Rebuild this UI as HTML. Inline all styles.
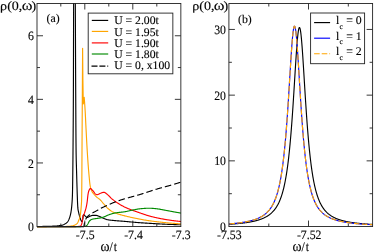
<!DOCTYPE html>
<html><head><meta charset="utf-8"><title>chart</title>
<style>
html,body{margin:0;padding:0;background:#fff;}
body{width:374px;height:252px;overflow:hidden;}
svg{display:block;}
.t{font-family:"Liberation Serif",serif;font-size:11.8px;fill:#000;stroke:#000;stroke-width:0.12px;text-rendering:geometricPrecision;}
</style></head><body>
<svg width="374" height="252" viewBox="0 0 374 252">
<rect width="100%" height="100%" fill="#fff"/>
<g opacity="0.999">
<defs><clipPath id="ca"><rect x="37.0" y="3.5" width="143.85" height="223.65"/></clipPath><clipPath id="cb"><rect x="228.9" y="3.5" width="143.70000000000002" height="223.65"/></clipPath></defs>
<g clip-path="url(#ca)" fill="none" stroke-linejoin="round">
<polyline points="37.00,226.50 37.52,226.50 38.04,226.50 38.56,226.49 39.08,226.49 39.60,226.48 40.12,226.48 40.64,226.47 41.16,226.46 41.67,226.46 42.19,226.45 42.71,226.44 43.23,226.43 43.75,226.42 44.27,226.41 44.79,226.40 45.31,226.39 45.83,226.38 46.35,226.37 46.87,226.36 47.39,226.35 47.91,226.34 48.43,226.32 48.95,226.31 49.47,226.29 49.99,226.28 50.51,226.26 51.02,226.24 51.54,226.22 52.06,226.20 52.58,226.18 53.10,226.16 53.62,226.14 54.14,226.11 54.65,226.08 55.17,226.06 55.69,226.03 56.21,225.99 56.73,225.95 57.25,225.91 57.78,225.86 58.30,225.81 58.82,225.75 59.34,225.68 59.85,225.61 60.36,225.54 60.87,225.45 61.37,225.36 61.87,225.26 62.37,225.13 62.87,224.97 63.36,224.77 63.85,224.55 64.32,224.32 64.77,224.07 65.20,223.82 65.64,223.53 66.08,223.22 66.50,222.88 66.90,222.52 67.27,222.15 67.60,221.76 67.89,221.37 68.15,220.96 68.40,220.52 68.64,220.06 68.87,219.58 69.08,219.09 69.28,218.60 69.46,218.09 69.64,217.59 69.80,217.08 69.95,216.58 70.09,216.09 70.22,215.59 70.35,215.09 70.47,214.59 70.58,214.08 70.69,213.57 70.79,213.06 70.89,212.54 70.99,212.03 71.07,211.51 71.16,211.00 71.23,210.48 71.30,209.97 71.37,209.46 71.44,208.94 71.50,208.43 71.56,207.91 71.61,207.40 71.67,206.88 71.72,206.36 71.77,205.84 71.81,205.33 71.86,204.81 71.90,204.29 71.94,203.77 71.98,203.25 72.02,202.74 72.06,202.22 72.09,201.70 72.13,201.18 72.16,200.66 72.19,200.14 72.23,199.63 72.26,199.11 72.28,198.59 72.31,198.07 72.34,197.55 72.36,197.03 72.38,196.51 72.40,195.99 72.42,195.47 72.43,194.96 72.45,194.44 72.46,193.92 72.48,193.40 72.49,192.88 72.50,192.36 72.51,191.84 72.52,191.32 72.53,190.80 72.54,190.28 72.55,189.76 72.56,189.24 72.57,188.72 72.58,188.21 72.59,187.69 72.60,187.17 72.61,186.65 72.62,186.13 72.62,185.61 72.63,185.09 72.64,184.57 72.65,184.05 72.65,183.53 72.66,183.01 72.67,182.49 72.68,181.97 72.68,181.45 72.69,180.93 72.70,180.42 72.70,179.90 72.71,179.38 72.72,178.86 72.72,178.34 72.73,177.82 72.73,177.30 72.74,176.78 72.75,176.26 72.75,175.74 72.76,175.22 72.77,174.70 72.77,174.18 72.78,173.66 72.78,173.14 72.79,172.63 72.80,172.11 72.80,171.59 72.81,171.07 72.81,170.55 72.82,170.03 72.83,169.51 72.83,168.99 72.84,168.47 72.84,167.95 72.85,167.43 72.86,166.91 72.86,166.39 72.87,165.87 72.87,165.35 72.88,164.84 72.88,164.32 72.89,163.80 72.89,163.28 72.90,162.76 72.90,162.24 72.91,161.72 72.92,161.20 72.92,160.68 72.93,160.16 72.93,159.64 72.94,159.12 72.94,158.60 72.95,158.08 72.95,157.56 72.96,157.04 72.96,156.53 72.96,156.01 72.97,155.49 72.97,154.97 72.98,154.45 72.98,153.93 72.99,153.41 72.99,152.89 73.00,152.37 73.00,151.85 73.01,151.33 73.01,150.81 73.01,150.29 73.02,149.77 73.02,149.25 73.03,148.73 73.03,148.22 73.04,147.70 73.04,147.18 73.04,146.66 73.05,146.14 73.05,145.62 73.06,145.10 73.06,144.58 73.07,144.06 73.07,143.54 73.07,143.02 73.08,142.50 73.08,141.98 73.09,141.46 73.09,140.94 73.09,140.43 73.10,139.91 73.10,139.39 73.11,138.87 73.11,138.35 73.11,137.83 73.12,137.31 73.12,136.79 73.13,136.27 73.13,135.75 73.13,135.23 73.14,134.71 73.14,134.19 73.15,133.67 73.15,133.15 73.15,132.63 73.16,132.12 73.16,131.60 73.16,131.08 73.17,130.56 73.17,130.04 73.18,129.52 73.18,129.00 73.18,128.48 73.19,127.96 73.19,127.44 73.19,126.92 73.20,126.40 73.20,125.88 73.21,125.36 73.21,124.84 73.21,124.32 73.22,123.81 73.22,123.29 73.22,122.77 73.23,122.25 73.23,121.73 73.23,121.21 73.24,120.69 73.24,120.17 73.24,119.65 73.25,119.13 73.25,118.61 73.25,118.09 73.26,117.57 73.26,117.05 73.26,116.53 73.27,116.01 73.27,115.50 73.27,114.98 73.27,114.46 73.28,113.94 73.28,113.42 73.28,112.90 73.29,112.38 73.29,111.86 73.29,111.34 73.30,110.82 73.30,110.30 73.30,109.78 73.30,109.26 73.31,108.74 73.31,108.22 73.31,107.70 73.32,107.19 73.32,106.67 73.32,106.15 73.32,105.63 73.33,105.11 73.33,104.59 73.33,104.07 73.33,103.55 73.34,103.03 73.34,102.51 73.34,101.99 73.34,101.47 73.35,100.95 73.35,100.43 73.35,99.91 73.35,99.39 73.35,98.88 73.36,98.36 73.36,97.84 73.36,97.32 73.36,96.80 73.37,96.28 73.37,95.76 73.37,95.24 73.37,94.72 73.37,94.20 73.38,93.68 73.38,93.16 73.38,92.64 73.38,92.12 73.38,91.60 73.39,91.08 73.39,90.57 73.39,90.05 73.39,89.53 73.39,89.01 73.40,88.49 73.40,87.97 73.40,87.45 73.40,86.93 73.40,86.41 73.40,85.89 73.41,85.37 73.41,84.85 73.41,84.33 73.41,83.81 73.41,83.29 73.42,82.77 73.42,82.26 73.42,81.74 73.42,81.22 73.42,80.70 73.42,80.18 73.43,79.66 73.43,79.14 73.43,78.62 73.43,78.10 73.43,77.58 73.43,77.06 73.43,76.54 73.44,76.02 73.44,75.50 73.44,74.98 73.44,74.46 73.44,73.95 73.44,73.43 73.45,72.91 73.45,72.39 73.45,71.87 73.45,71.35 73.45,70.83 73.45,70.31 73.45,69.79 73.46,69.27 73.46,68.75 73.46,68.23 73.46,67.71 73.46,67.19 73.46,66.67 73.46,66.15 73.46,65.64 73.47,65.12 73.47,64.60 73.47,64.08 73.47,63.56 73.47,63.04 73.47,62.52 73.47,62.00 73.48,61.48 73.48,60.96 73.48,60.44 73.48,59.92 73.48,59.40 73.48,58.88 73.48,58.36 73.48,57.84 73.49,57.33 73.49,56.81 73.49,56.29 73.49,55.77 73.49,55.25 73.49,54.73 73.49,54.21 73.49,53.69 73.50,53.17 73.50,52.65 73.50,52.13 73.50,51.61 73.50,51.09 73.50,50.57 73.50,50.05 73.50,49.53 73.51,49.02 73.51,48.50 73.51,47.98 73.51,47.46 73.51,46.94 73.51,46.42 73.51,45.90 73.52,45.38 73.52,44.86 73.52,44.34 73.52,43.82 73.52,43.30 73.52,42.78 73.52,42.26 73.52,41.74 73.53,41.22 73.53,40.71 73.53,40.19 73.53,39.67 73.53,39.15 73.53,38.63 73.53,38.11 73.54,37.59 73.54,37.07 73.54,36.55 73.54,36.03 73.54,35.51 73.54,34.99 73.54,34.47 73.54,33.95 73.55,33.43 73.55,32.91 73.55,32.40 73.55,31.88 73.55,31.36 73.55,30.84 73.55,30.32 73.56,29.80 73.56,29.28 73.56,28.76 73.56,28.24 73.56,27.72 73.56,27.20 73.57,26.68 73.57,26.16 73.57,25.64 73.57,25.12 73.57,24.60 73.57,24.08 73.58,23.57 73.58,23.05 73.58,22.53 73.58,22.01 73.58,21.49 73.58,20.97 73.59,20.45 73.59,19.93 73.59,19.41 73.59,18.89 73.59,18.37 73.59,17.85 73.60,17.33 73.60,16.81 73.60,16.29 73.60,15.77 73.60,15.26 73.60,14.74 73.61,14.22 73.61,13.70 73.61,13.18 73.61,12.66 73.61,12.14 73.62,11.62 73.62,11.10 73.62,10.58 73.62,10.06 73.62,9.54 73.63,9.02 73.63,8.50 73.63,7.98 73.63,7.46 73.64,6.95 73.64,6.43 73.64,5.91 73.64,5.39 73.64,4.87 73.65,4.35 73.65,3.83 73.65,3.31 73.65,2.79 73.66,2.27 73.66,1.75 73.66,1.23 73.66,0.71 73.67,0.19 73.67,-0.33 73.67,-0.85 73.68,-1.36 73.68,-1.88 73.68,-2.40 73.69,-2.92 73.69,-3.44 73.69,-3.96 73.70,-4.48 73.70,-5.00" stroke="#000" stroke-width="1.15"/>
<polyline points="75.25,-5.00 75.25,-4.52 75.26,-4.04 75.26,-3.56 75.26,-3.09 75.26,-2.61 75.27,-2.13 75.27,-1.65 75.27,-1.17 75.28,-0.69 75.28,-0.21 75.28,0.26 75.28,0.74 75.29,1.22 75.29,1.70 75.29,2.18 75.30,2.66 75.30,3.14 75.30,3.61 75.30,4.09 75.31,4.57 75.31,5.05 75.31,5.53 75.31,6.01 75.32,6.49 75.32,6.96 75.32,7.44 75.32,7.92 75.33,8.40 75.33,8.88 75.33,9.36 75.33,9.84 75.34,10.31 75.34,10.79 75.34,11.27 75.34,11.75 75.35,12.23 75.35,12.71 75.35,13.18 75.35,13.66 75.35,14.14 75.36,14.62 75.36,15.10 75.36,15.58 75.36,16.06 75.37,16.53 75.37,17.01 75.37,17.49 75.37,17.97 75.38,18.45 75.38,18.93 75.38,19.41 75.38,19.88 75.38,20.36 75.39,20.84 75.39,21.32 75.39,21.80 75.39,22.28 75.40,22.76 75.40,23.23 75.40,23.71 75.40,24.19 75.40,24.67 75.41,25.15 75.41,25.63 75.41,26.11 75.41,26.58 75.42,27.06 75.42,27.54 75.42,28.02 75.42,28.50 75.42,28.98 75.43,29.46 75.43,29.93 75.43,30.41 75.43,30.89 75.43,31.37 75.44,31.85 75.44,32.33 75.44,32.81 75.44,33.28 75.45,33.76 75.45,34.24 75.45,34.72 75.45,35.20 75.45,35.68 75.46,36.16 75.46,36.63 75.46,37.11 75.46,37.59 75.46,38.07 75.47,38.55 75.47,39.03 75.47,39.51 75.47,39.98 75.47,40.46 75.48,40.94 75.48,41.42 75.48,41.90 75.48,42.38 75.48,42.86 75.49,43.33 75.49,43.81 75.49,44.29 75.49,44.77 75.49,45.25 75.50,45.73 75.50,46.21 75.50,46.68 75.50,47.16 75.50,47.64 75.51,48.12 75.51,48.60 75.51,49.08 75.51,49.55 75.51,50.03 75.52,50.51 75.52,50.99 75.52,51.47 75.52,51.95 75.53,52.43 75.53,52.90 75.53,53.38 75.53,53.86 75.53,54.34 75.54,54.82 75.54,55.30 75.54,55.78 75.54,56.25 75.54,56.73 75.55,57.21 75.55,57.69 75.55,58.17 75.55,58.65 75.55,59.13 75.56,59.60 75.56,60.08 75.56,60.56 75.56,61.04 75.56,61.52 75.57,62.00 75.57,62.48 75.57,62.95 75.57,63.43 75.57,63.91 75.58,64.39 75.58,64.87 75.58,65.35 75.58,65.83 75.58,66.30 75.59,66.78 75.59,67.26 75.59,67.74 75.59,68.22 75.60,68.70 75.60,69.18 75.60,69.65 75.60,70.13 75.60,70.61 75.61,71.09 75.61,71.57 75.61,72.05 75.61,72.53 75.61,73.00 75.62,73.48 75.62,73.96 75.62,74.44 75.62,74.92 75.63,75.40 75.63,75.88 75.63,76.35 75.63,76.83 75.63,77.31 75.64,77.79 75.64,78.27 75.64,78.75 75.64,79.23 75.65,79.70 75.65,80.18 75.65,80.66 75.65,81.14 75.65,81.62 75.66,82.10 75.66,82.58 75.66,83.05 75.66,83.53 75.67,84.01 75.67,84.49 75.67,84.97 75.67,85.45 75.68,85.93 75.68,86.40 75.68,86.88 75.68,87.36 75.69,87.84 75.69,88.32 75.69,88.80 75.69,89.27 75.70,89.75 75.70,90.23 75.70,90.71 75.70,91.19 75.71,91.67 75.71,92.15 75.71,92.62 75.71,93.10 75.72,93.58 75.72,94.06 75.72,94.54 75.72,95.02 75.73,95.50 75.73,95.97 75.73,96.45 75.73,96.93 75.74,97.41 75.74,97.89 75.74,98.37 75.74,98.85 75.75,99.32 75.75,99.80 75.75,100.28 75.75,100.76 75.76,101.24 75.76,101.72 75.76,102.20 75.76,102.67 75.77,103.15 75.77,103.63 75.77,104.11 75.77,104.59 75.78,105.07 75.78,105.55 75.78,106.02 75.78,106.50 75.79,106.98 75.79,107.46 75.79,107.94 75.79,108.42 75.80,108.90 75.80,109.37 75.80,109.85 75.80,110.33 75.81,110.81 75.81,111.29 75.81,111.77 75.81,112.25 75.82,112.72 75.82,113.20 75.82,113.68 75.82,114.16 75.83,114.64 75.83,115.12 75.83,115.60 75.83,116.07 75.84,116.55 75.84,117.03 75.84,117.51 75.84,117.99 75.85,118.47 75.85,118.95 75.85,119.42 75.85,119.90 75.86,120.38 75.86,120.86 75.86,121.34 75.86,121.82 75.87,122.30 75.87,122.77 75.87,123.25 75.87,123.73 75.88,124.21 75.88,124.69 75.88,125.17 75.89,125.65 75.89,126.12 75.89,126.60 75.89,127.08 75.90,127.56 75.90,128.04 75.90,128.52 75.91,129.00 75.91,129.47 75.91,129.95 75.91,130.43 75.92,130.91 75.92,131.39 75.92,131.87 75.93,132.35 75.93,132.82 75.93,133.30 75.94,133.78 75.94,134.26 75.94,134.74 75.95,135.22 75.95,135.70 75.95,136.17 75.96,136.65 75.96,137.13 75.96,137.61 75.97,138.09 75.97,138.57 75.98,139.05 75.98,139.52 75.98,140.00 75.99,140.48 75.99,140.96 76.00,141.44 76.00,141.92 76.00,142.39 76.01,142.87 76.01,143.35 76.02,143.83 76.02,144.31 76.03,144.79 76.03,145.27 76.03,145.74 76.04,146.22 76.04,146.70 76.05,147.18 76.05,147.66 76.06,148.14 76.06,148.62 76.07,149.09 76.07,149.57 76.08,150.05 76.08,150.53 76.09,151.01 76.09,151.49 76.10,151.96 76.11,152.44 76.11,152.92 76.12,153.40 76.13,153.88 76.13,154.36 76.14,154.84 76.15,155.31 76.16,155.79 76.17,156.27 76.18,156.75 76.19,157.23 76.20,157.71 76.21,158.18 76.22,158.66 76.23,159.14 76.24,159.62 76.25,160.10 76.26,160.58 76.27,161.05 76.29,161.53 76.30,162.01 76.31,162.49 76.33,162.97 76.34,163.45 76.35,163.93 76.37,164.40 76.38,164.88 76.39,165.36 76.41,165.84 76.42,166.32 76.43,166.80 76.45,167.27 76.46,167.75 76.48,168.23 76.49,168.71 76.50,169.19 76.52,169.67 76.53,170.14 76.55,170.62 76.56,171.10 76.58,171.58 76.59,172.06 76.60,172.54 76.62,173.01 76.63,173.49 76.64,173.97 76.66,174.45 76.67,174.93 76.68,175.41 76.70,175.89 76.71,176.36 76.72,176.84 76.74,177.32 76.75,177.80 76.76,178.28 76.77,178.76 76.79,179.23 76.80,179.71 76.81,180.19 76.83,180.67 76.84,181.15 76.85,181.63 76.87,182.10 76.88,182.58 76.89,183.06 76.91,183.54 76.92,184.02 76.94,184.50 76.95,184.97 76.96,185.45 76.98,185.93 76.99,186.41 77.01,186.89 77.02,187.37 77.03,187.84 77.05,188.32 77.06,188.80 77.08,189.28 77.09,189.76 77.11,190.24 77.12,190.71 77.14,191.19 77.15,191.67 77.17,192.15 77.18,192.63 77.20,193.11 77.21,193.58 77.23,194.06 77.25,194.54 77.26,195.02 77.28,195.50 77.30,195.98 77.32,196.45 77.33,196.93 77.35,197.41 77.37,197.89 77.38,198.37 77.40,198.85 77.42,199.33 77.43,199.81 77.45,200.29 77.47,200.77 77.48,201.25 77.50,201.73 77.52,202.21 77.54,202.68 77.56,203.16 77.58,203.64 77.61,204.12 77.63,204.60 77.66,205.07 77.68,205.55 77.71,206.03 77.74,206.50 77.77,206.98 77.81,207.45 77.84,207.93 77.89,208.40 77.94,208.87 78.01,209.35 78.08,209.82 78.17,210.29 78.26,210.76 78.36,211.23 78.46,211.70 78.57,212.17 78.68,212.64 78.79,213.11 78.90,213.57 79.01,214.04 79.12,214.50 79.24,214.97 79.35,215.43 79.47,215.90 79.60,216.36 79.73,216.82 79.86,217.28 80.01,217.74 80.16,218.19 80.32,218.64 80.48,219.09 80.67,219.53 80.87,219.97 81.09,220.40 81.33,220.83 81.64,221.34 81.93,221.67 82.12,221.63 82.28,221.33 82.43,220.85 82.55,220.26 82.67,219.65 82.78,219.10 82.88,218.61 82.96,218.04 83.02,217.42 83.08,216.80 83.14,216.19 83.20,215.65 83.29,215.20 83.40,214.88 83.54,214.71 83.85,214.75 84.35,214.92 84.66,215.25 84.94,215.67 85.25,216.05 85.60,216.42 85.98,216.80 86.37,217.14 86.77,217.39 87.17,217.50 87.58,217.44 88.01,217.28 88.44,217.05 88.88,216.79 89.32,216.52 89.77,216.29 90.21,216.12 90.67,215.96 91.12,215.79 91.59,215.63 92.05,215.49 92.52,215.38 92.99,215.31 93.46,215.30 93.93,215.31 94.41,215.32 94.90,215.34 95.38,215.36 95.85,215.39 96.32,215.43 96.78,215.53 97.25,215.66 97.70,215.81 98.16,215.98 98.61,216.16 99.06,216.32 99.51,216.49 99.95,216.67 100.39,216.86 100.82,217.06 101.26,217.27 101.69,217.47 102.13,217.68 102.56,217.88 103.00,218.07 103.44,218.26 103.89,218.43 104.33,218.61 104.78,218.78 105.23,218.96 105.68,219.13 106.14,219.29 106.59,219.44 107.05,219.58 107.51,219.70 107.97,219.80 108.44,219.88 108.91,219.95 109.38,220.02 109.85,220.08 110.32,220.14 110.80,220.20 111.28,220.25 111.75,220.30 112.23,220.34 112.71,220.39 113.19,220.43 113.67,220.48 114.15,220.52 114.63,220.56 115.10,220.61 115.58,220.65 116.06,220.70 116.53,220.74 117.01,220.78 117.49,220.82 117.96,220.86 118.44,220.89 118.92,220.93 119.40,220.97 119.87,221.00 120.35,221.04 120.83,221.07 121.30,221.11 121.78,221.15 122.26,221.18 122.74,221.22 123.21,221.25 123.69,221.29 124.17,221.33 124.64,221.37 125.12,221.41 125.60,221.45 126.08,221.49 126.55,221.54 127.03,221.58 127.50,221.63 127.98,221.67 128.46,221.72 128.93,221.76 129.41,221.81 129.89,221.85 130.36,221.90 130.84,221.95 131.32,221.99 131.79,222.04 132.27,222.08 132.75,222.13 133.22,222.17 133.70,222.22 134.17,222.26 134.65,222.30 135.13,222.35 135.61,222.39 136.08,222.43 136.56,222.47 137.04,222.50 137.51,222.54 137.99,222.58 138.47,222.61 138.94,222.65 139.42,222.68 139.90,222.71 140.38,222.75 140.85,222.78 141.33,222.81 141.81,222.84 142.29,222.88 142.76,222.91 143.24,222.94 143.72,222.97 144.20,223.00 144.67,223.03 145.15,223.06 145.63,223.09 146.11,223.12 146.58,223.15 147.06,223.18 147.54,223.21 148.02,223.24 148.50,223.27 148.97,223.30 149.45,223.33 149.93,223.36 150.41,223.39 150.88,223.42 151.36,223.44 151.84,223.47 152.32,223.50 152.79,223.53 153.27,223.56 153.75,223.59 154.23,223.62 154.71,223.65 155.18,223.68 155.66,223.70 156.14,223.73 156.62,223.76 157.09,223.79 157.57,223.82 158.05,223.84 158.53,223.87 159.01,223.90 159.48,223.92 159.96,223.95 160.44,223.97 160.92,224.00 161.39,224.02 161.87,224.05 162.35,224.07 162.83,224.10 163.31,224.12 163.78,224.14 164.26,224.17 164.74,224.19 165.22,224.21 165.70,224.23 166.17,224.25 166.65,224.27 167.13,224.29 167.61,224.31 168.09,224.34 168.57,224.36 169.04,224.38 169.52,224.40 170.00,224.42 170.48,224.43 170.96,224.45 171.43,224.47 171.91,224.49 172.39,224.51 172.87,224.53 173.35,224.55 173.82,224.56 174.30,224.58 174.78,224.60 175.26,224.62 175.74,224.63 176.22,224.65 176.69,224.67 177.17,224.68 177.65,224.70 178.13,224.71 178.61,224.73 179.09,224.74 179.56,224.76 180.04,224.77 180.52,224.79 181.00,224.80" stroke="#000" stroke-width="1.15"/>
<polyline points="37.00,226.55 37.73,226.55 38.45,226.55 39.18,226.55 39.90,226.55 40.63,226.55 41.35,226.55 42.08,226.55 42.80,226.55 43.53,226.55 44.25,226.55 44.98,226.55 45.70,226.55 46.43,226.55 47.15,226.54 47.88,226.54 48.60,226.54 49.33,226.54 50.05,226.54 50.78,226.54 51.50,226.54 52.23,226.54 52.95,226.54 53.68,226.53 54.40,226.53 55.13,226.53 55.85,226.53 56.58,226.53 57.30,226.52 58.03,226.52 58.75,226.52 59.47,226.52 60.20,226.52 60.92,226.51 61.65,226.51 62.37,226.51 63.10,226.50 63.82,226.50 64.55,226.49 65.27,226.48 66.00,226.46 66.72,226.42 67.45,226.38 68.17,226.34 68.90,226.29 69.62,226.23 70.33,226.17 71.05,226.07 71.77,225.94 72.48,225.78 73.18,225.60 73.87,225.39 74.56,225.13 75.23,224.82 75.86,224.48 76.47,224.09 77.02,223.60 77.45,223.06 77.82,222.45 78.14,221.78 78.44,221.10 78.71,220.41 78.98,219.74 79.25,219.07 79.51,218.38 79.74,217.69 79.94,216.99 80.10,216.29 80.23,215.59 80.35,214.88 80.45,214.17 80.55,213.45 80.64,212.73 80.73,212.00 80.80,211.28 80.88,210.55 80.94,209.83 81.01,209.10 81.07,208.38 81.13,207.66 81.19,206.93 81.25,206.21 81.30,205.49 81.36,204.77 81.41,204.04 81.45,203.32 81.50,202.59 81.53,201.87 81.56,201.15 81.59,200.42 81.61,199.70 81.62,198.97 81.64,198.25 81.65,197.52 81.67,196.80 81.68,196.07 81.69,195.35 81.70,194.63 81.71,193.90 81.72,193.18 81.73,192.45 81.74,191.73 81.75,191.00 81.75,190.28 81.76,189.55 81.77,188.83 81.77,188.10 81.78,187.38 81.79,186.65 81.79,185.93 81.80,185.20 81.80,184.48 81.81,183.75 81.82,183.03 81.82,182.30 81.83,181.58 81.83,180.85 81.84,180.13 81.84,179.40 81.85,178.68 81.85,177.95 81.86,177.23 81.86,176.50 81.87,175.78 81.87,175.05 81.87,174.33 81.88,173.60 81.88,172.88 81.89,172.15 81.89,171.43 81.89,170.70 81.90,169.98 81.90,169.25 81.91,168.53 81.91,167.80 81.91,167.08 81.92,166.35 81.92,165.63 81.92,164.90 81.93,164.18 81.93,163.45 81.93,162.73 81.94,162.00 81.94,161.28 81.95,160.55 81.95,159.83 81.95,159.11 81.96,158.38 81.96,157.66 81.96,156.93 81.97,156.21 81.97,155.48 81.97,154.76 81.98,154.03 81.98,153.31 81.99,152.58 81.99,151.86 81.99,151.13 82.00,150.41 82.00,149.68 82.01,148.96 82.01,148.23 82.01,147.51 82.02,146.78 82.02,146.06 82.03,145.33 82.03,144.61 82.04,143.88 82.04,143.16 82.04,142.43 82.05,141.71 82.05,140.98 82.06,140.26 82.06,139.53 82.07,138.81 82.07,138.08 82.08,137.36 82.08,136.63 82.08,135.91 82.09,135.18 82.09,134.46 82.10,133.73 82.10,133.01 82.11,132.28 82.11,131.56 82.11,130.84 82.12,130.11 82.12,129.39 82.13,128.66 82.13,127.94 82.14,127.21 82.14,126.49 82.15,125.76 82.15,125.04 82.15,124.31 82.16,123.59 82.16,122.86 82.17,122.14 82.17,121.41 82.18,120.69 82.18,119.96 82.18,119.24 82.19,118.51 82.19,117.79 82.20,117.06 82.20,116.34 82.21,115.61 82.21,114.89 82.22,114.16 82.22,113.44 82.22,112.71 82.23,111.99 82.23,111.26 82.24,110.54 82.24,109.81 82.25,109.09 82.25,108.36 82.25,107.64 82.26,106.91 82.26,106.19 82.27,105.46 82.27,104.74 82.28,104.01 82.28,103.29 82.28,102.57 82.29,101.84 82.29,101.12 82.30,100.39 82.30,99.67 82.31,98.94 82.31,98.22 82.31,97.49 82.32,96.77 82.32,96.04 82.33,95.32 82.33,94.59 82.34,93.87 82.34,93.14 82.34,92.42 82.35,91.69 82.35,90.97 82.36,90.24 82.36,89.52 82.37,88.79 82.37,88.07 82.37,87.34 82.38,86.62 82.38,85.89 82.39,85.17 82.39,84.44 82.40,83.72 82.40,82.99 82.40,82.27 82.41,81.54 82.41,80.82 82.42,80.09 82.42,79.37 82.42,78.64 82.43,77.92 82.43,77.19 82.44,76.47 82.44,75.75 82.45,75.02 82.45,74.30 82.45,73.57 82.46,72.85 82.46,72.12 82.47,71.40 82.47,70.67 82.48,69.95 82.48,69.22 82.48,68.50 82.49,67.77 82.49,67.05 82.50,66.32 82.50,65.60 82.50,64.87 82.51,64.15 82.51,63.42 82.52,62.70 82.52,61.97 82.53,61.25 82.53,60.52 82.53,59.80 82.54,59.07 82.54,58.35 82.55,57.62 82.55,56.90 82.55,56.17 82.56,55.45 82.56,54.72 82.57,54.00 82.57,53.27 82.58,52.55 82.58,51.82 82.58,51.10 82.59,50.37 82.59,49.65 82.60,48.92 82.60,48.20 82.60,48.20 82.90,80.00 83.30,104.00 83.30,104.00 84.20,97.30 84.20,97.30 84.25,97.95 84.30,98.59 84.35,99.24 84.40,99.88 84.45,100.53 84.50,101.17 84.55,101.82 84.60,102.46 84.64,103.11 84.69,103.75 84.74,104.40 84.78,105.05 84.82,105.69 84.87,106.34 84.91,106.98 84.95,107.63 84.99,108.28 85.03,108.92 85.07,109.57 85.11,110.21 85.15,110.86 85.19,111.51 85.22,112.15 85.26,112.80 85.29,113.44 85.33,114.09 85.36,114.74 85.39,115.38 85.42,116.03 85.46,116.68 85.49,117.32 85.52,117.97 85.55,118.62 85.58,119.26 85.61,119.91 85.64,120.56 85.67,121.20 85.70,121.85 85.73,122.50 85.76,123.14 85.79,123.79 85.82,124.44 85.85,125.08 85.89,125.73 85.92,126.38 85.95,127.02 85.98,127.67 86.02,128.31 86.05,128.96 86.08,129.61 86.12,130.25 86.15,130.90 86.18,131.55 86.22,132.19 86.25,132.84 86.28,133.49 86.31,134.13 86.35,134.78 86.38,135.43 86.41,136.07 86.45,136.72 86.48,137.37 86.51,138.01 86.55,138.66 86.58,139.30 86.61,139.95 86.65,140.60 86.68,141.24 86.72,141.89 86.75,142.54 86.79,143.18 86.82,143.83 86.86,144.48 86.89,145.12 86.93,145.77 86.97,146.41 87.00,147.06 87.04,147.71 87.08,148.35 87.12,149.00 87.16,149.65 87.19,150.29 87.23,150.94 87.27,151.58 87.31,152.23 87.36,152.88 87.40,153.52 87.44,154.17 87.48,154.81 87.52,155.46 87.56,156.11 87.60,156.75 87.65,157.40 87.69,158.04 87.73,158.69 87.78,159.34 87.82,159.98 87.87,160.63 87.91,161.27 87.96,161.92 88.00,162.56 88.05,163.21 88.10,163.86 88.14,164.50 88.19,165.15 88.24,165.79 88.29,166.44 88.34,167.08 88.39,167.73 88.44,168.38 88.49,169.02 88.54,169.67 88.60,170.31 88.65,170.96 88.71,171.60 88.76,172.25 88.82,172.89 88.87,173.53 88.93,174.18 88.99,174.82 89.05,175.47 89.11,176.11 89.17,176.76 89.23,177.40 89.29,178.05 89.35,178.70 89.41,179.35 89.47,180.00 89.53,180.65 89.60,181.29 89.67,181.94 89.74,182.59 89.82,183.23 89.90,183.87 89.99,184.51 90.08,185.15 90.18,185.78 90.29,186.41 90.41,187.04 90.55,187.66 90.72,188.29 90.92,188.92 91.14,189.54 91.38,190.14 91.64,190.74 91.91,191.32 92.20,191.88 92.53,192.43 92.90,192.97 93.30,193.49 93.72,194.00 94.14,194.50 94.56,194.98 95.00,195.45 95.46,195.91 95.93,196.36 96.42,196.79 96.90,197.22 97.40,197.63 97.92,198.02 98.46,198.40 98.98,198.78 99.50,199.17 99.98,199.58 100.44,200.03 100.88,200.50 101.30,200.99 101.71,201.50 102.12,202.00 102.53,202.51 102.95,203.01 103.37,203.50 103.80,203.99 104.21,204.49 104.63,204.99 105.05,205.49 105.47,205.99 105.90,206.47 106.34,206.95 106.79,207.41 107.25,207.85 107.72,208.28 108.21,208.71 108.71,209.13 109.22,209.54 109.74,209.94 110.26,210.33 110.80,210.70 111.34,211.05 111.89,211.38 112.45,211.69 113.02,211.98 113.60,212.27 114.19,212.54 114.79,212.79 115.40,213.04 116.00,213.27 116.61,213.50 117.22,213.71 117.83,213.92 118.44,214.11 119.06,214.30 119.68,214.49 120.30,214.67 120.93,214.84 121.56,215.01 122.18,215.18 122.81,215.34 123.44,215.50 124.07,215.66 124.70,215.82 125.32,215.98 125.95,216.14 126.58,216.29 127.21,216.45 127.84,216.60 128.47,216.75 129.10,216.90 129.73,217.04 130.36,217.19 130.99,217.33 131.62,217.47 132.26,217.61 132.89,217.75 133.52,217.89 134.15,218.02 134.79,218.15 135.42,218.28 136.06,218.41 136.69,218.54 137.33,218.66 137.96,218.79 138.60,218.91 139.23,219.03 139.87,219.16 140.50,219.28 141.14,219.39 141.78,219.51 142.41,219.63 143.05,219.74 143.69,219.85 144.33,219.96 144.97,220.07 145.61,220.18 146.24,220.28 146.88,220.38 147.52,220.48 148.16,220.58 148.80,220.67 149.44,220.76 150.08,220.85 150.72,220.94 151.37,221.03 152.01,221.12 152.65,221.20 153.29,221.28 153.93,221.37 154.57,221.45 155.22,221.53 155.86,221.61 156.50,221.68 157.15,221.76 157.79,221.84 158.43,221.91 159.08,221.98 159.72,222.05 160.36,222.12 161.01,222.19 161.65,222.26 162.30,222.33 162.94,222.40 163.58,222.46 164.23,222.52 164.87,222.59 165.52,222.65 166.16,222.71 166.80,222.77 167.45,222.83 168.09,222.89 168.74,222.95 169.38,223.01 170.03,223.06 170.67,223.12 171.32,223.18 171.96,223.23 172.61,223.29 173.25,223.34 173.90,223.39 174.54,223.44 175.19,223.49 175.83,223.54 176.48,223.59 177.12,223.64 177.77,223.68 178.42,223.73 179.06,223.77 179.71,223.82 180.35,223.86 181.00,223.90" stroke="#ffa500" stroke-width="1.15"/>
<polyline points="37.00,226.55 37.46,226.55 37.92,226.55 38.38,226.55 38.84,226.55 39.30,226.55 39.77,226.55 40.23,226.55 40.69,226.55 41.15,226.55 41.61,226.55 42.07,226.55 42.53,226.55 42.99,226.55 43.45,226.55 43.91,226.55 44.37,226.55 44.83,226.55 45.29,226.55 45.75,226.55 46.21,226.55 46.67,226.55 47.13,226.55 47.59,226.55 48.05,226.55 48.51,226.55 48.96,226.55 49.42,226.55 49.88,226.55 50.34,226.55 50.80,226.55 51.26,226.55 51.72,226.55 52.18,226.55 52.64,226.55 53.10,226.55 53.56,226.55 54.01,226.55 54.47,226.55 54.93,226.55 55.39,226.55 55.85,226.55 56.31,226.55 56.77,226.55 57.23,226.55 57.68,226.55 58.14,226.55 58.60,226.55 59.06,226.55 59.52,226.55 59.98,226.55 60.43,226.55 60.89,226.55 61.35,226.55 61.81,226.55 62.27,226.55 62.72,226.55 63.18,226.55 63.64,226.55 64.10,226.55 64.55,226.55 65.01,226.55 65.47,226.55 65.93,226.55 66.39,226.55 66.84,226.55 67.30,226.55 67.76,226.55 68.22,226.55 68.67,226.55 69.13,226.55 69.59,226.55 70.05,226.55 70.50,226.55 70.96,226.55 71.42,226.55 71.88,226.55 72.33,226.55 72.79,226.55 73.25,226.55 73.70,226.55 74.16,226.55 74.62,226.55 75.08,226.55 75.53,226.55 75.99,226.55 76.46,226.54 76.95,226.53 77.44,226.50 77.94,226.46 78.43,226.41 78.90,226.35 79.34,226.28 79.76,226.21 80.12,226.12 80.45,225.98 80.78,225.69 81.08,225.29 81.34,224.84 81.56,224.37 81.72,223.94 81.84,223.52 81.93,223.08 82.02,222.63 82.09,222.17 82.16,221.70 82.23,221.24 82.30,220.78 82.38,220.33 82.44,219.87 82.50,219.41 82.56,218.95 82.62,218.49 82.69,218.04 82.75,217.58 82.83,217.13 82.91,216.69 83.01,216.25 83.14,215.82 83.30,215.39 83.48,214.97 83.69,214.56 83.90,214.14 84.11,213.73 84.31,213.31 84.49,212.89 84.65,212.46 84.80,212.03 84.95,211.59 85.09,211.16 85.23,210.72 85.37,210.28 85.50,209.84 85.63,209.40 85.76,208.96 85.88,208.51 85.99,208.07 86.10,207.62 86.21,207.18 86.31,206.73 86.40,206.28 86.49,205.83 86.58,205.38 86.67,204.93 86.75,204.48 86.83,204.03 86.90,203.58 86.98,203.12 87.05,202.67 87.12,202.21 87.18,201.76 87.24,201.30 87.30,200.83 87.35,200.37 87.40,199.91 87.45,199.44 87.49,198.98 87.54,198.51 87.59,198.05 87.63,197.58 87.68,197.12 87.73,196.66 87.79,196.20 87.84,195.74 87.90,195.29 87.96,194.84 88.03,194.39 88.10,193.94 88.18,193.50 88.26,193.06 88.35,192.63 88.45,192.20 88.56,191.77 88.71,191.27 88.88,190.75 89.09,190.21 89.31,189.70 89.56,189.24 89.82,188.87 90.09,188.61 90.36,188.50 90.65,188.56 90.98,188.78 91.34,189.10 91.71,189.49 92.08,189.88 92.44,190.24 92.77,190.57 93.10,190.94 93.41,191.34 93.73,191.76 94.03,192.19 94.34,192.62 94.65,193.04 94.96,193.43 95.28,193.79 95.60,194.11 95.93,194.37 96.27,194.56 96.62,194.67 96.99,194.70 97.38,194.64 97.79,194.52 98.22,194.35 98.65,194.15 99.10,193.93 99.54,193.71 99.99,193.50 100.43,193.33 100.86,193.17 101.30,193.00 101.75,192.82 102.20,192.65 102.64,192.50 103.08,192.39 103.51,192.32 103.93,192.30 104.34,192.38 104.74,192.53 105.15,192.74 105.54,193.00 105.93,193.30 106.32,193.61 106.70,193.94 107.07,194.25 107.43,194.55 107.79,194.83 108.14,195.12 108.47,195.43 108.81,195.74 109.13,196.07 109.45,196.40 109.77,196.73 110.09,197.07 110.41,197.40 110.74,197.73 111.06,198.06 111.39,198.38 111.73,198.69 112.08,198.98 112.43,199.27 112.79,199.55 113.15,199.83 113.51,200.11 113.87,200.39 114.24,200.66 114.61,200.93 114.98,201.20 115.36,201.47 115.73,201.73 116.11,202.00 116.49,202.26 116.88,202.51 117.26,202.77 117.65,203.02 118.03,203.27 118.42,203.52 118.81,203.77 119.20,204.01 119.59,204.25 119.99,204.49 120.38,204.73 120.78,204.96 121.17,205.19 121.57,205.42 121.96,205.65 122.36,205.87 122.77,206.09 123.17,206.30 123.58,206.51 123.99,206.72 124.41,206.92 124.82,207.12 125.24,207.31 125.65,207.50 126.07,207.69 126.49,207.88 126.91,208.06 127.33,208.25 127.75,208.43 128.17,208.61 128.60,208.78 129.02,208.96 129.45,209.13 129.87,209.30 130.30,209.47 130.73,209.64 131.15,209.81 131.58,209.97 132.01,210.13 132.44,210.29 132.87,210.45 133.30,210.61 133.73,210.76 134.16,210.91 134.60,211.07 135.03,211.22 135.47,211.37 135.90,211.51 136.33,211.66 136.77,211.81 137.20,211.96 137.64,212.10 138.07,212.25 138.51,212.40 138.94,212.54 139.38,212.69 139.81,212.84 140.25,212.98 140.68,213.13 141.11,213.29 141.55,213.44 141.98,213.59 142.41,213.75 142.85,213.90 143.28,214.05 143.71,214.21 144.15,214.36 144.58,214.51 145.02,214.66 145.45,214.81 145.88,214.95 146.32,215.10 146.76,215.24 147.19,215.37 147.63,215.51 148.07,215.64 148.51,215.76 148.95,215.89 149.39,216.01 149.83,216.12 150.28,216.24 150.72,216.35 151.16,216.47 151.61,216.58 152.05,216.69 152.50,216.81 152.94,216.92 153.39,217.02 153.83,217.13 154.28,217.24 154.73,217.34 155.17,217.45 155.62,217.55 156.07,217.65 156.52,217.75 156.97,217.85 157.42,217.95 157.87,218.05 158.32,218.14 158.77,218.24 159.22,218.33 159.67,218.42 160.12,218.51 160.57,218.60 161.02,218.69 161.47,218.78 161.92,218.86 162.37,218.94 162.82,219.03 163.28,219.11 163.73,219.19 164.18,219.26 164.63,219.34 165.08,219.41 165.53,219.49 165.98,219.56 166.44,219.63 166.89,219.70 167.34,219.78 167.79,219.85 168.25,219.92 168.70,219.99 169.15,220.05 169.61,220.12 170.06,220.19 170.51,220.25 170.97,220.32 171.42,220.38 171.88,220.45 172.33,220.51 172.78,220.57 173.24,220.63 173.69,220.69 174.15,220.75 174.60,220.81 175.06,220.87 175.52,220.92 175.97,220.98 176.43,221.03 176.88,221.08 177.34,221.13 177.80,221.18 178.25,221.23 178.71,221.28 179.17,221.33 179.63,221.37 180.08,221.42 180.54,221.46 181.00,221.50" stroke="#ff0000" stroke-width="1.15"/>
<polyline points="37.00,226.55 37.37,226.55 37.75,226.55 38.12,226.55 38.50,226.55 38.87,226.55 39.24,226.55 39.62,226.55 39.99,226.55 40.36,226.55 40.74,226.55 41.11,226.55 41.49,226.55 41.86,226.55 42.23,226.55 42.61,226.55 42.98,226.55 43.35,226.55 43.73,226.55 44.10,226.55 44.48,226.55 44.85,226.55 45.22,226.55 45.60,226.55 45.97,226.55 46.34,226.55 46.72,226.55 47.09,226.55 47.46,226.55 47.84,226.55 48.21,226.55 48.59,226.55 48.96,226.55 49.33,226.55 49.71,226.55 50.08,226.55 50.45,226.55 50.83,226.55 51.20,226.55 51.57,226.55 51.95,226.55 52.32,226.55 52.69,226.55 53.07,226.55 53.44,226.55 53.82,226.55 54.19,226.55 54.56,226.55 54.94,226.55 55.31,226.55 55.68,226.55 56.06,226.55 56.43,226.55 56.80,226.55 57.18,226.55 57.55,226.55 57.92,226.55 58.30,226.55 58.67,226.55 59.04,226.55 59.42,226.55 59.79,226.55 60.16,226.55 60.54,226.55 60.91,226.55 61.28,226.55 61.66,226.55 62.03,226.55 62.40,226.55 62.78,226.55 63.15,226.55 63.52,226.55 63.90,226.55 64.27,226.55 64.65,226.55 65.02,226.55 65.39,226.55 65.77,226.55 66.14,226.55 66.51,226.55 66.89,226.55 67.26,226.55 67.63,226.55 68.01,226.55 68.38,226.55 68.75,226.55 69.13,226.55 69.50,226.55 69.87,226.55 70.25,226.55 70.62,226.55 70.99,226.55 71.37,226.55 71.74,226.55 72.11,226.55 72.49,226.55 72.86,226.55 73.23,226.55 73.61,226.55 73.98,226.55 74.35,226.55 74.72,226.55 75.10,226.55 75.47,226.55 75.84,226.55 76.22,226.55 76.59,226.55 76.96,226.55 77.34,226.55 77.71,226.55 78.08,226.55 78.46,226.55 78.83,226.55 79.20,226.55 79.58,226.55 79.95,226.55 80.33,226.55 80.71,226.55 81.09,226.54 81.48,226.53 81.87,226.53 82.25,226.51 82.64,226.50 83.02,226.48 83.41,226.47 83.78,226.44 84.15,226.42 84.51,226.39 84.87,226.36 85.21,226.33 85.54,226.29 85.87,226.18 86.19,225.98 86.49,225.72 86.78,225.43 87.04,225.16 87.26,224.87 87.46,224.56 87.66,224.23 87.86,223.91 88.05,223.58 88.23,223.24 88.40,222.90 88.58,222.55 88.75,222.21 88.93,221.88 89.12,221.56 89.32,221.25 89.54,220.97 89.78,220.72 90.04,220.47 90.33,220.23 90.65,220.00 90.97,219.79 91.31,219.60 91.65,219.43 91.99,219.30 92.33,219.20 92.69,219.11 93.05,219.03 93.42,218.96 93.79,218.89 94.17,218.83 94.55,218.77 94.92,218.71 95.29,218.66 95.66,218.61 96.03,218.56 96.40,218.52 96.77,218.47 97.14,218.43 97.51,218.39 97.88,218.35 98.25,218.30 98.62,218.24 98.99,218.18 99.36,218.12 99.73,218.05 100.09,217.98 100.46,217.90 100.83,217.82 101.19,217.73 101.56,217.64 101.92,217.55 102.28,217.45 102.64,217.35 103.00,217.25 103.36,217.14 103.71,217.03 104.06,216.91 104.40,216.78 104.75,216.63 105.09,216.48 105.42,216.31 105.76,216.15 106.10,215.98 106.43,215.81 106.77,215.64 107.11,215.48 107.45,215.32 107.79,215.18 108.14,215.05 108.49,214.92 108.84,214.79 109.19,214.67 109.54,214.54 109.90,214.42 110.25,214.30 110.61,214.18 110.97,214.06 111.32,213.95 111.68,213.83 112.04,213.73 112.40,213.62 112.76,213.52 113.12,213.42 113.49,213.33 113.85,213.24 114.21,213.16 114.57,213.08 114.94,213.01 115.30,212.94 115.67,212.88 116.03,212.82 116.40,212.77 116.77,212.71 117.14,212.66 117.51,212.61 117.88,212.56 118.25,212.52 118.62,212.48 118.99,212.43 119.36,212.39 119.74,212.35 120.11,212.31 120.48,212.27 120.85,212.23 121.23,212.19 121.60,212.15 121.97,212.11 122.35,212.06 122.72,212.02 123.09,211.97 123.46,211.93 123.83,211.88 124.20,211.82 124.57,211.77 124.94,211.71 125.30,211.65 125.67,211.58 126.04,211.52 126.40,211.44 126.77,211.37 127.14,211.29 127.50,211.22 127.87,211.13 128.23,211.05 128.59,210.97 128.96,210.89 129.32,210.80 129.69,210.72 130.05,210.63 130.42,210.55 130.78,210.47 131.15,210.38 131.51,210.30 131.88,210.23 132.24,210.15 132.61,210.08 132.97,210.00 133.34,209.93 133.71,209.86 134.08,209.79 134.44,209.72 134.81,209.65 135.18,209.57 135.54,209.50 135.91,209.43 136.28,209.36 136.65,209.29 137.02,209.23 137.38,209.16 137.75,209.10 138.12,209.04 138.49,208.99 138.86,208.93 139.23,208.89 139.60,208.84 139.97,208.80 140.34,208.77 140.71,208.73 141.08,208.69 141.45,208.66 141.82,208.62 142.20,208.59 142.57,208.55 142.94,208.52 143.31,208.49 143.69,208.45 144.06,208.42 144.43,208.40 144.81,208.37 145.18,208.34 145.55,208.32 145.93,208.29 146.30,208.27 146.67,208.26 147.05,208.24 147.42,208.23 147.79,208.22 148.17,208.21 148.54,208.20 148.91,208.20 149.28,208.20 149.66,208.21 150.03,208.22 150.40,208.23 150.78,208.24 151.15,208.26 151.52,208.28 151.90,208.31 152.27,208.34 152.64,208.36 153.02,208.40 153.39,208.43 153.76,208.46 154.13,208.50 154.51,208.54 154.88,208.58 155.25,208.61 155.62,208.65 155.99,208.69 156.36,208.73 156.73,208.77 157.11,208.81 157.48,208.85 157.84,208.90 158.21,208.95 158.58,209.00 158.95,209.06 159.32,209.12 159.69,209.18 160.06,209.25 160.42,209.32 160.79,209.38 161.16,209.45 161.53,209.53 161.89,209.60 162.26,209.67 162.63,209.74 162.99,209.82 163.36,209.89 163.73,209.96 164.10,210.03 164.46,210.10 164.83,210.17 165.20,210.24 165.57,210.30 165.93,210.37 166.30,210.44 166.67,210.51 167.03,210.58 167.40,210.65 167.77,210.72 168.13,210.79 168.50,210.86 168.87,210.92 169.24,210.99 169.60,211.06 169.97,211.13 170.34,211.20 170.70,211.27 171.07,211.34 171.44,211.41 171.80,211.48 172.17,211.55 172.54,211.62 172.91,211.68 173.27,211.75 173.64,211.82 174.01,211.88 174.38,211.95 174.74,212.01 175.11,212.08 175.48,212.14 175.85,212.21 176.22,212.27 176.58,212.34 176.95,212.40 177.32,212.47 177.69,212.53 178.05,212.60 178.42,212.66 178.79,212.72 179.16,212.79 179.53,212.85 179.90,212.91 180.26,212.98 180.63,213.04 181.00,213.10" stroke="#008b00" stroke-width="1.15"/>
<polyline points="84.00,226.30 84.03,225.93 84.07,225.56 84.12,225.19 84.17,224.82 84.23,224.46 84.29,224.09 84.36,223.73 84.43,223.37 84.50,223.01 84.59,222.65 84.69,222.29 84.80,221.93 84.91,221.58 85.02,221.23 85.14,220.88 85.26,220.53 85.39,220.17 85.53,219.82 85.67,219.47 85.82,219.13 85.97,218.80 86.14,218.47 86.31,218.15 86.50,217.84 86.70,217.54 86.92,217.25 87.16,216.96 87.41,216.67 87.67,216.40 87.93,216.13 88.20,215.87 88.47,215.62 88.75,215.39 89.03,215.16 89.33,214.93 89.63,214.72 89.94,214.51 90.25,214.30 90.57,214.10 90.88,213.90 91.19,213.70 91.51,213.51 91.82,213.32 92.14,213.14 92.47,212.95 92.79,212.78 93.11,212.60 93.44,212.42 93.77,212.25 94.10,212.08 94.43,211.91 94.76,211.74 95.09,211.57 95.41,211.39 95.74,211.22 96.07,211.05 96.39,210.87 96.72,210.69 97.04,210.51 97.36,210.32 97.68,210.14 98.00,209.95 98.32,209.76 98.64,209.57 98.96,209.38 99.28,209.20 99.60,209.01 99.92,208.83 100.24,208.65 100.57,208.47 100.90,208.30 101.22,208.13 101.55,207.97 101.88,207.80 102.22,207.64 102.55,207.48 102.88,207.32 103.22,207.16 103.55,207.00 103.89,206.85 104.23,206.69 104.56,206.54 104.90,206.38 105.24,206.23 105.58,206.08 105.91,205.93 106.25,205.78 106.59,205.63 106.93,205.48 107.27,205.33 107.61,205.18 107.94,205.02 108.28,204.87 108.62,204.72 108.96,204.57 109.30,204.42 109.63,204.27 109.97,204.12 110.31,203.96 110.65,203.81 110.99,203.66 111.33,203.51 111.67,203.37 112.01,203.22 112.35,203.07 112.69,202.93 113.03,202.78 113.37,202.64 113.71,202.50 114.06,202.37 114.40,202.23 114.75,202.10 115.09,201.97 115.44,201.84 115.78,201.71 116.13,201.58 116.48,201.46 116.83,201.33 117.18,201.21 117.53,201.09 117.88,200.97 118.23,200.85 118.58,200.73 118.93,200.61 119.28,200.49 119.63,200.38 119.98,200.26 120.34,200.15 120.69,200.04 121.04,199.92 121.40,199.81 121.75,199.70 122.10,199.59 122.46,199.48 122.81,199.37 123.16,199.26 123.52,199.15 123.87,199.04 124.22,198.93 124.58,198.82 124.93,198.72 125.29,198.61 125.64,198.51 126.00,198.40 126.35,198.30 126.71,198.20 127.06,198.10 127.42,197.99 127.78,197.89 128.13,197.79 128.49,197.69 128.85,197.60 129.20,197.50 129.56,197.40 129.92,197.30 130.27,197.20 130.63,197.11 130.99,197.01 131.35,196.91 131.70,196.82 132.06,196.72 132.42,196.62 132.78,196.53 133.13,196.43 133.49,196.33 133.85,196.24 134.21,196.14 134.56,196.04 134.92,195.95 135.28,195.85 135.64,195.75 135.99,195.65 136.35,195.55 136.71,195.45 137.06,195.35 137.42,195.25 137.77,195.15 138.13,195.05 138.49,194.95 138.84,194.84 139.20,194.74 139.55,194.63 139.91,194.53 140.26,194.42 140.61,194.31 140.97,194.21 141.32,194.10 141.67,193.99 142.03,193.87 142.38,193.76 142.73,193.65 143.09,193.54 143.44,193.42 143.79,193.31 144.14,193.19 144.49,193.08 144.85,192.96 145.20,192.85 145.55,192.73 145.90,192.62 146.25,192.50 146.60,192.38 146.95,192.26 147.31,192.15 147.66,192.03 148.01,191.91 148.36,191.79 148.71,191.68 149.06,191.56 149.41,191.44 149.76,191.33 150.12,191.21 150.47,191.09 150.82,190.98 151.17,190.86 151.52,190.74 151.87,190.63 152.23,190.51 152.58,190.40 152.93,190.29 153.28,190.17 153.64,190.06 153.99,189.95 154.34,189.84 154.69,189.73 155.05,189.62 155.40,189.51 155.76,189.40 156.11,189.30 156.46,189.19 156.82,189.09 157.17,188.98 157.53,188.88 157.88,188.78 158.24,188.67 158.60,188.57 158.95,188.47 159.31,188.37 159.66,188.27 160.02,188.17 160.38,188.07 160.73,187.97 161.09,187.87 161.45,187.77 161.80,187.68 162.16,187.58 162.52,187.48 162.88,187.38 163.23,187.29 163.59,187.19 163.95,187.09 164.31,187.00 164.66,186.90 165.02,186.80 165.38,186.71 165.74,186.61 166.09,186.51 166.45,186.41 166.81,186.32 167.16,186.22 167.52,186.12 167.88,186.02 168.24,185.93 168.59,185.83 168.95,185.73 169.31,185.63 169.66,185.53 170.02,185.43 170.37,185.33 170.73,185.23 171.09,185.12 171.44,185.02 171.80,184.92 172.15,184.81 172.51,184.71 172.86,184.60 173.22,184.50 173.57,184.39 173.93,184.29 174.28,184.18 174.64,184.07 174.99,183.97 175.34,183.86 175.70,183.75 176.05,183.64 176.41,183.53 176.76,183.43 177.11,183.32 177.47,183.21 177.82,183.10 178.17,182.99 178.53,182.88 178.88,182.77 179.23,182.66 179.59,182.55 179.94,182.43 180.29,182.32 180.65,182.21 181.00,182.10" stroke="#000" stroke-width="1.15" stroke-dasharray="6.6,3.05" stroke-dashoffset="2.62"/>
<polyline points="37.00,226.55 84.00,226.55" stroke="#000" stroke-width="1.15"/>
</g>
<g clip-path="url(#cb)" fill="none" stroke-linejoin="round">
<polyline points="228.90,224.30 229.14,224.28 229.38,224.27 229.62,224.25 229.86,224.23 230.10,224.22 230.34,224.20 230.58,224.19 230.82,224.17 231.06,224.15 231.30,224.14 231.54,224.12 231.78,224.10 232.02,224.09 232.26,224.07 232.50,224.05 232.74,224.03 232.98,224.01 233.22,224.00 233.46,223.98 233.70,223.96 233.94,223.94 234.18,223.92 234.42,223.90 234.66,223.88 234.90,223.86 235.14,223.84 235.38,223.82 235.62,223.80 235.86,223.78 236.10,223.76 236.34,223.74 236.58,223.72 236.82,223.70 237.06,223.68 237.30,223.66 237.54,223.63 237.78,223.61 238.02,223.59 238.26,223.57 238.50,223.54 238.74,223.52 238.98,223.49 239.22,223.47 239.46,223.45 239.70,223.42 239.94,223.40 240.18,223.37 240.42,223.35 240.66,223.32 240.89,223.29 241.13,223.27 241.37,223.24 241.61,223.21 241.85,223.19 242.09,223.16 242.33,223.13 242.57,223.10 242.81,223.07 243.05,223.04 243.29,223.02 243.53,222.99 243.77,222.96 244.01,222.92 244.25,222.89 244.49,222.86 244.73,222.83 244.97,222.80 245.21,222.77 245.45,222.73 245.69,222.70 245.93,222.67 246.17,222.63 246.41,222.60 246.65,222.56 246.89,222.53 247.13,222.49 247.37,222.45 247.61,222.41 247.85,222.38 248.09,222.34 248.33,222.30 248.57,222.26 248.81,222.22 249.05,222.18 249.29,222.14 249.53,222.10 249.77,222.06 250.01,222.01 250.25,221.97 250.49,221.93 250.73,221.88 250.97,221.84 251.21,221.79 251.45,221.74 251.69,221.70 251.93,221.65 252.17,221.60 252.41,221.55 252.65,221.50 252.89,221.45 253.13,221.40 253.37,221.35 253.61,221.29 253.85,221.24 254.09,221.18 254.33,221.13 254.57,221.07 254.81,221.01 255.05,220.96 255.29,220.90 255.53,220.84 255.77,220.78 256.01,220.71 256.25,220.65 256.49,220.59 256.73,220.52 256.97,220.45 257.21,220.39 257.45,220.32 257.69,220.25 257.93,220.18 258.17,220.11 258.41,220.03 258.65,219.96 258.89,219.88 259.13,219.81 259.37,219.73 259.61,219.65 259.85,219.57 260.09,219.49 260.33,219.40 260.57,219.32 260.81,219.23 261.05,219.14 261.29,219.05 261.53,218.96 261.77,218.87 262.01,218.77 262.25,218.68 262.49,218.58 262.73,218.48 262.97,218.37 263.21,218.27 263.45,218.16 263.69,218.06 263.93,217.94 264.17,217.83 264.41,217.72 264.65,217.60 264.88,217.48 265.12,217.36 265.36,217.24 265.60,217.11 265.84,216.98 266.08,216.85 266.32,216.71 266.56,216.58 266.80,216.44 267.04,216.29 267.28,216.15 267.52,216.00 267.76,215.85 268.00,215.69 268.24,215.53 268.48,215.37 268.72,215.20 268.96,215.03 269.20,214.86 269.44,214.68 269.68,214.50 269.92,214.31 270.16,214.12 270.40,213.93 270.64,213.73 270.88,213.53 271.12,213.32 271.36,213.10 271.60,212.88 271.84,212.66 272.08,212.43 272.32,212.19 272.56,211.95 272.80,211.70 273.04,211.45 273.28,211.19 273.52,210.92 273.76,210.65 274.00,210.37 274.24,210.08 274.48,209.78 274.72,209.48 274.96,209.16 275.20,208.84 275.44,208.51 275.68,208.17 275.92,207.82 276.16,207.46 276.40,207.09 276.64,206.71 276.88,206.32 277.12,205.92 277.36,205.50 277.60,205.08 277.84,204.63 278.08,204.18 278.32,203.71 278.56,203.23 278.80,202.74 279.04,202.22 279.28,201.69 279.52,201.15 279.76,200.59 280.00,200.01 280.24,199.41 280.48,198.79 280.72,198.15 280.96,197.48 281.20,196.80 281.44,196.09 281.68,195.36 281.92,194.61 282.16,193.83 282.40,193.02 282.64,192.18 282.88,191.32 283.12,190.42 283.36,189.49 283.60,188.53 283.84,187.53 284.08,186.50 284.32,185.43 284.56,184.33 284.80,183.18 285.04,181.99 285.28,180.75 285.52,179.48 285.76,178.15 286.00,176.77 286.24,175.35 286.48,173.87 286.72,172.33 286.96,170.74 287.20,169.09 287.44,167.38 287.68,165.61 287.92,163.77 288.16,161.86 288.40,159.88 288.64,157.83 288.87,155.70 289.11,153.50 289.35,151.22 289.59,148.85 289.83,146.41 290.07,143.88 290.31,141.26 290.55,138.56 290.79,135.77 291.03,132.89 291.27,129.92 291.51,126.86 291.75,123.70 291.99,120.47 292.23,117.14 292.47,113.73 292.71,110.24 292.95,106.67 293.19,103.03 293.43,99.32 293.67,95.55 293.91,91.74 294.15,87.88 294.39,83.99 294.63,80.08 294.87,76.17 295.11,72.28 295.35,68.41 295.59,64.59 295.83,60.83 296.07,57.17 296.31,53.61 296.55,50.19 296.79,46.92 297.03,43.83 297.27,40.95 297.51,38.29 297.75,35.88 297.99,33.74 298.23,31.89 298.47,30.35 298.71,29.12 298.95,28.23 299.19,27.68 299.43,27.48 299.67,27.63 299.91,28.12 300.15,28.96 300.39,30.13 300.63,31.62 300.87,33.42 301.11,35.52 301.35,37.88 301.59,40.50 301.83,43.35 302.07,46.41 302.31,49.65 302.55,53.05 302.79,56.58 303.03,60.23 303.27,63.97 303.51,67.78 303.75,71.65 303.99,75.54 304.23,79.45 304.47,83.36 304.71,87.25 304.95,91.11 305.19,94.94 305.43,98.71 305.67,102.43 305.91,106.08 306.15,109.66 306.39,113.17 306.63,116.59 306.87,119.93 307.11,123.19 307.35,126.35 307.59,129.43 307.83,132.41 308.07,135.31 308.31,138.11 308.55,140.83 308.79,143.46 309.03,146.00 309.27,148.46 309.51,150.84 309.75,153.13 309.99,155.35 310.23,157.49 310.47,159.55 310.71,161.54 310.95,163.46 311.19,165.31 311.43,167.10 311.67,168.82 311.91,170.48 312.15,172.08 312.39,173.62 312.63,175.11 312.86,176.55 313.10,177.93 313.34,179.26 313.58,180.55 313.82,181.79 314.06,182.99 314.30,184.14 314.54,185.26 314.78,186.33 315.02,187.37 315.26,188.37 315.50,189.34 315.74,190.27 315.98,191.17 316.22,192.04 316.46,192.88 316.70,193.70 316.94,194.48 317.18,195.24 317.42,195.98 317.66,196.69 317.90,197.37 318.14,198.04 318.38,198.68 318.62,199.31 318.86,199.91 319.10,200.49 319.34,201.06 319.58,201.61 319.82,202.14 320.06,202.65 320.30,203.15 320.54,203.64 320.78,204.11 321.02,204.56 321.26,205.00 321.50,205.43 321.74,205.85 321.98,206.26 322.22,206.65 322.46,207.03 322.70,207.40 322.94,207.76 323.18,208.11 323.42,208.46 323.66,208.79 323.90,209.11 324.14,209.43 324.38,209.73 324.62,210.03 324.86,210.32 325.10,210.60 325.34,210.88 325.58,211.15 325.82,211.41 326.06,211.66 326.30,211.91 326.54,212.16 326.78,212.39 327.02,212.62 327.26,212.85 327.50,213.07 327.74,213.28 327.98,213.49 328.22,213.70 328.46,213.90 328.70,214.09 328.94,214.28 329.18,214.47 329.42,214.65 329.66,214.83 329.90,215.00 330.14,215.18 330.38,215.34 330.62,215.51 330.86,215.66 331.10,215.82 331.34,215.97 331.58,216.12 331.82,216.27 332.06,216.41 332.30,216.55 332.54,216.69 332.78,216.83 333.02,216.96 333.26,217.09 333.50,217.22 333.74,217.34 333.98,217.46 334.22,217.58 334.46,217.70 334.70,217.81 334.94,217.93 335.18,218.04 335.42,218.15 335.66,218.25 335.90,218.36 336.14,218.46 336.38,218.56 336.62,218.66 336.85,218.76 337.09,218.85 337.33,218.95 337.57,219.04 337.81,219.13 338.05,219.22 338.29,219.30 338.53,219.39 338.77,219.47 339.01,219.56 339.25,219.64 339.49,219.72 339.73,219.79 339.97,219.87 340.21,219.95 340.45,220.02 340.69,220.10 340.93,220.17 341.17,220.24 341.41,220.31 341.65,220.38 341.89,220.44 342.13,220.51 342.37,220.58 342.61,220.64 342.85,220.70 343.09,220.77 343.33,220.83 343.57,220.89 343.81,220.95 344.05,221.00 344.29,221.06 344.53,221.12 344.77,221.17 345.01,221.23 345.25,221.28 345.49,221.34 345.73,221.39 345.97,221.44 346.21,221.49 346.45,221.54 346.69,221.59 346.93,221.64 347.17,221.69 347.41,221.74 347.65,221.78 347.89,221.83 348.13,221.87 348.37,221.92 348.61,221.96 348.85,222.01 349.09,222.05 349.33,222.09 349.57,222.13 349.81,222.17 350.05,222.21 350.29,222.25 350.53,222.29 350.77,222.33 351.01,222.37 351.25,222.41 351.49,222.45 351.73,222.48 351.97,222.52 352.21,222.56 352.45,222.59 352.69,222.63 352.93,222.66 353.17,222.69 353.41,222.73 353.65,222.76 353.89,222.79 354.13,222.83 354.37,222.86 354.61,222.89 354.85,222.92 355.09,222.95 355.33,222.98 355.57,223.01 355.81,223.04 356.05,223.07 356.29,223.10 356.53,223.13 356.77,223.15 357.01,223.18 357.25,223.21 357.49,223.24 357.73,223.26 357.97,223.29 358.21,223.32 358.45,223.34 358.69,223.37 358.93,223.39 359.17,223.42 359.41,223.44 359.65,223.47 359.89,223.49 360.13,223.51 360.37,223.54 360.61,223.56 360.84,223.58 361.08,223.61 361.32,223.63 361.56,223.65 361.80,223.67 362.04,223.70 362.28,223.72 362.52,223.74 362.76,223.76 363.00,223.78 363.24,223.80 363.48,223.82 363.72,223.84 363.96,223.86 364.20,223.88 364.44,223.90 364.68,223.92 364.92,223.94 365.16,223.96 365.40,223.97 365.64,223.99 365.88,224.01 366.12,224.03 366.36,224.05 366.60,224.07 366.84,224.08 367.08,224.10 367.32,224.12 367.56,224.13 367.80,224.15 368.04,224.17 368.28,224.18 368.52,224.20 368.76,224.22 369.00,224.23 369.24,224.25 369.48,224.26 369.72,224.28 369.96,224.29 370.20,224.31 370.44,224.32 370.68,224.34 370.92,224.35 371.16,224.37 371.40,224.38 371.64,224.40 371.88,224.41 372.12,224.42 372.36,224.44 372.60,224.45" stroke="#000" stroke-width="1.15"/>
<polyline points="228.90,223.93 229.14,223.91 229.38,223.89 229.62,223.87 229.86,223.85 230.10,223.83 230.34,223.81 230.58,223.79 230.82,223.77 231.06,223.75 231.30,223.73 231.54,223.71 231.78,223.69 232.02,223.67 232.26,223.64 232.50,223.62 232.74,223.60 232.98,223.58 233.22,223.55 233.46,223.53 233.70,223.51 233.94,223.48 234.18,223.46 234.42,223.43 234.66,223.41 234.90,223.39 235.14,223.36 235.38,223.33 235.62,223.31 235.86,223.28 236.10,223.26 236.34,223.23 236.58,223.20 236.82,223.17 237.06,223.15 237.30,223.12 237.54,223.09 237.78,223.06 238.02,223.03 238.26,223.00 238.50,222.97 238.74,222.94 238.98,222.91 239.22,222.88 239.46,222.85 239.70,222.82 239.94,222.79 240.18,222.75 240.42,222.72 240.66,222.69 240.89,222.65 241.13,222.62 241.37,222.58 241.61,222.55 241.85,222.51 242.09,222.48 242.33,222.44 242.57,222.40 242.81,222.36 243.05,222.33 243.29,222.29 243.53,222.25 243.77,222.21 244.01,222.17 244.25,222.13 244.49,222.08 244.73,222.04 244.97,222.00 245.21,221.96 245.45,221.91 245.69,221.87 245.93,221.82 246.17,221.78 246.41,221.73 246.65,221.68 246.89,221.63 247.13,221.59 247.37,221.54 247.61,221.49 247.85,221.43 248.09,221.38 248.33,221.33 248.57,221.28 248.81,221.22 249.05,221.17 249.29,221.11 249.53,221.06 249.77,221.00 250.01,220.94 250.25,220.88 250.49,220.82 250.73,220.76 250.97,220.70 251.21,220.63 251.45,220.57 251.69,220.51 251.93,220.44 252.17,220.37 252.41,220.30 252.65,220.23 252.89,220.16 253.13,220.09 253.37,220.02 253.61,219.94 253.85,219.87 254.09,219.79 254.33,219.71 254.57,219.63 254.81,219.55 255.05,219.47 255.29,219.39 255.53,219.30 255.77,219.21 256.01,219.13 256.25,219.04 256.49,218.94 256.73,218.85 256.97,218.76 257.21,218.66 257.45,218.56 257.69,218.46 257.93,218.36 258.17,218.25 258.41,218.15 258.65,218.04 258.89,217.93 259.13,217.82 259.37,217.70 259.61,217.59 259.85,217.47 260.09,217.34 260.33,217.22 260.57,217.09 260.81,216.97 261.05,216.83 261.29,216.70 261.53,216.56 261.77,216.42 262.01,216.28 262.25,216.13 262.49,215.98 262.73,215.83 262.97,215.68 263.21,215.52 263.45,215.36 263.69,215.19 263.93,215.02 264.17,214.85 264.41,214.67 264.65,214.49 264.88,214.30 265.12,214.11 265.36,213.92 265.60,213.72 265.84,213.52 266.08,213.31 266.32,213.09 266.56,212.88 266.80,212.65 267.04,212.42 267.28,212.19 267.52,211.95 267.76,211.70 268.00,211.45 268.24,211.19 268.48,210.92 268.72,210.65 268.96,210.36 269.20,210.08 269.44,209.78 269.68,209.48 269.92,209.16 270.16,208.84 270.40,208.51 270.64,208.18 270.88,207.83 271.12,207.47 271.36,207.10 271.60,206.72 271.84,206.33 272.08,205.93 272.32,205.52 272.56,205.09 272.80,204.65 273.04,204.20 273.28,203.74 273.52,203.26 273.76,202.76 274.00,202.25 274.24,201.73 274.48,201.18 274.72,200.62 274.96,200.05 275.20,199.45 275.44,198.83 275.68,198.20 275.92,197.54 276.16,196.86 276.40,196.16 276.64,195.43 276.88,194.68 277.12,193.90 277.36,193.10 277.60,192.27 277.84,191.41 278.08,190.51 278.32,189.59 278.56,188.64 278.80,187.65 279.04,186.62 279.28,185.56 279.52,184.46 279.76,183.32 280.00,182.14 280.24,180.91 280.48,179.64 280.72,178.32 280.96,176.96 281.20,175.54 281.44,174.07 281.68,172.55 281.92,170.97 282.16,169.33 282.40,167.63 282.64,165.87 282.88,164.04 283.12,162.14 283.36,160.18 283.60,158.14 283.84,156.03 284.08,153.84 284.32,151.57 284.56,149.22 284.80,146.79 285.04,144.28 285.28,141.68 285.52,138.99 285.76,136.21 286.00,133.34 286.24,130.38 286.48,127.34 286.72,124.20 286.96,120.97 287.20,117.65 287.44,114.25 287.68,110.77 287.92,107.20 288.16,103.56 288.40,99.86 288.64,96.08 288.87,92.26 289.11,88.39 289.35,84.48 289.59,80.56 289.83,76.62 290.07,72.69 290.31,68.79 290.55,64.92 290.79,61.11 291.03,57.39 291.27,53.77 291.51,50.27 291.75,46.92 291.99,43.74 292.23,40.76 292.47,38.00 292.71,35.48 292.95,33.23 293.19,31.25 293.43,29.59 293.67,28.23 293.91,27.21 294.15,26.53 294.39,26.20 294.63,26.22 294.87,26.59 295.11,27.30 295.35,28.36 295.59,29.75 295.83,31.45 296.07,33.45 296.31,35.73 296.55,38.28 296.79,41.07 297.03,44.07 297.27,47.26 297.51,50.63 297.75,54.14 297.99,57.78 298.23,61.51 298.47,65.32 298.71,69.19 298.95,73.10 299.19,77.04 299.43,80.97 299.67,84.90 299.91,88.80 300.15,92.66 300.39,96.48 300.63,100.25 300.87,103.95 301.11,107.58 301.35,111.14 301.59,114.61 301.83,118.01 302.07,121.31 302.31,124.53 302.55,127.66 302.79,130.70 303.03,133.65 303.27,136.51 303.51,139.27 303.75,141.95 303.99,144.54 304.23,147.05 304.47,149.47 304.71,151.81 304.95,154.07 305.19,156.25 305.43,158.36 305.67,160.39 305.91,162.34 306.15,164.23 306.39,166.05 306.63,167.81 306.87,169.50 307.11,171.14 307.35,172.71 307.59,174.23 307.83,175.69 308.07,177.10 308.31,178.47 308.55,179.78 308.79,181.04 309.03,182.26 309.27,183.44 309.51,184.58 309.75,185.67 309.99,186.73 310.23,187.75 310.47,188.74 310.71,189.69 310.95,190.61 311.19,191.50 311.43,192.36 311.67,193.18 311.91,193.98 312.15,194.76 312.39,195.51 312.63,196.23 312.86,196.93 313.10,197.61 313.34,198.26 313.58,198.90 313.82,199.51 314.06,200.11 314.30,200.68 314.54,201.24 314.78,201.78 315.02,202.31 315.26,202.82 315.50,203.31 315.74,203.79 315.98,204.25 316.22,204.70 316.46,205.14 316.70,205.56 316.94,205.97 317.18,206.37 317.42,206.76 317.66,207.14 317.90,207.51 318.14,207.86 318.38,208.21 318.62,208.55 318.86,208.88 319.10,209.20 319.34,209.51 319.58,209.81 319.82,210.11 320.06,210.39 320.30,210.67 320.54,210.95 320.78,211.21 321.02,211.47 321.26,211.72 321.50,211.97 321.74,212.21 321.98,212.45 322.22,212.68 322.46,212.90 322.70,213.12 322.94,213.33 323.18,213.54 323.42,213.74 323.66,213.94 323.90,214.13 324.14,214.32 324.38,214.51 324.62,214.69 324.86,214.86 325.10,215.04 325.34,215.21 325.58,215.37 325.82,215.53 326.06,215.69 326.30,215.85 326.54,216.00 326.78,216.15 327.02,216.29 327.26,216.44 327.50,216.58 327.74,216.71 327.98,216.85 328.22,216.98 328.46,217.11 328.70,217.23 328.94,217.36 329.18,217.48 329.42,217.60 329.66,217.71 329.90,217.83 330.14,217.94 330.38,218.05 330.62,218.16 330.86,218.26 331.10,218.37 331.34,218.47 331.58,218.57 331.82,218.67 332.06,218.77 332.30,218.86 332.54,218.95 332.78,219.05 333.02,219.13 333.26,219.22 333.50,219.31 333.74,219.39 333.98,219.48 334.22,219.56 334.46,219.64 334.70,219.72 334.94,219.80 335.18,219.88 335.42,219.95 335.66,220.03 335.90,220.10 336.14,220.17 336.38,220.24 336.62,220.31 336.85,220.38 337.09,220.45 337.33,220.51 337.57,220.58 337.81,220.64 338.05,220.70 338.29,220.77 338.53,220.83 338.77,220.89 339.01,220.95 339.25,221.00 339.49,221.06 339.73,221.12 339.97,221.17 340.21,221.23 340.45,221.28 340.69,221.34 340.93,221.39 341.17,221.44 341.41,221.49 341.65,221.54 341.89,221.59 342.13,221.64 342.37,221.69 342.61,221.73 342.85,221.78 343.09,221.83 343.33,221.87 343.57,221.92 343.81,221.96 344.05,222.00 344.29,222.05 344.53,222.09 344.77,222.13 345.01,222.17 345.25,222.21 345.49,222.25 345.73,222.29 345.97,222.33 346.21,222.37 346.45,222.41 346.69,222.44 346.93,222.48 347.17,222.52 347.41,222.55 347.65,222.59 347.89,222.62 348.13,222.66 348.37,222.69 348.61,222.72 348.85,222.76 349.09,222.79 349.33,222.82 349.57,222.85 349.81,222.88 350.05,222.92 350.29,222.95 350.53,222.98 350.77,223.01 351.01,223.04 351.25,223.06 351.49,223.09 351.73,223.12 351.97,223.15 352.21,223.18 352.45,223.21 352.69,223.23 352.93,223.26 353.17,223.29 353.41,223.31 353.65,223.34 353.89,223.36 354.13,223.39 354.37,223.41 354.61,223.44 354.85,223.46 355.09,223.49 355.33,223.51 355.57,223.53 355.81,223.56 356.05,223.58 356.29,223.60 356.53,223.62 356.77,223.65 357.01,223.67 357.25,223.69 357.49,223.71 357.73,223.73 357.97,223.75 358.21,223.77 358.45,223.80 358.69,223.82 358.93,223.84 359.17,223.86 359.41,223.87 359.65,223.89 359.89,223.91 360.13,223.93 360.37,223.95 360.61,223.97 360.84,223.99 361.08,224.01 361.32,224.02 361.56,224.04 361.80,224.06 362.04,224.08 362.28,224.09 362.52,224.11 362.76,224.13 363.00,224.15 363.24,224.16 363.48,224.18 363.72,224.19 363.96,224.21 364.20,224.23 364.44,224.24 364.68,224.26 364.92,224.27 365.16,224.29 365.40,224.30 365.64,224.32 365.88,224.33 366.12,224.35 366.36,224.36 366.60,224.38 366.84,224.39 367.08,224.41 367.32,224.42 367.56,224.43 367.80,224.45 368.04,224.46 368.28,224.47 368.52,224.49 368.76,224.50 369.00,224.51 369.24,224.53 369.48,224.54 369.72,224.55 369.96,224.56 370.20,224.58 370.44,224.59 370.68,224.60 370.92,224.61 371.16,224.63 371.40,224.64 371.64,224.65 371.88,224.66 372.12,224.67 372.36,224.68 372.60,224.69" stroke="#0000ff" stroke-width="1.15"/>
<polyline points="228.90,223.93 229.14,223.91 229.38,223.89 229.62,223.87 229.86,223.85 230.10,223.83 230.34,223.81 230.58,223.79 230.82,223.77 231.06,223.75 231.30,223.73 231.54,223.71 231.78,223.69 232.02,223.67 232.26,223.64 232.50,223.62 232.74,223.60 232.98,223.58 233.22,223.55 233.46,223.53 233.70,223.51 233.94,223.48 234.18,223.46 234.42,223.43 234.66,223.41 234.90,223.39 235.14,223.36 235.38,223.33 235.62,223.31 235.86,223.28 236.10,223.26 236.34,223.23 236.58,223.20 236.82,223.17 237.06,223.15 237.30,223.12 237.54,223.09 237.78,223.06 238.02,223.03 238.26,223.00 238.50,222.97 238.74,222.94 238.98,222.91 239.22,222.88 239.46,222.85 239.70,222.82 239.94,222.79 240.18,222.75 240.42,222.72 240.66,222.69 240.89,222.65 241.13,222.62 241.37,222.58 241.61,222.55 241.85,222.51 242.09,222.48 242.33,222.44 242.57,222.40 242.81,222.36 243.05,222.33 243.29,222.29 243.53,222.25 243.77,222.21 244.01,222.17 244.25,222.13 244.49,222.08 244.73,222.04 244.97,222.00 245.21,221.96 245.45,221.91 245.69,221.87 245.93,221.82 246.17,221.78 246.41,221.73 246.65,221.68 246.89,221.63 247.13,221.59 247.37,221.54 247.61,221.49 247.85,221.43 248.09,221.38 248.33,221.33 248.57,221.28 248.81,221.22 249.05,221.17 249.29,221.11 249.53,221.06 249.77,221.00 250.01,220.94 250.25,220.88 250.49,220.82 250.73,220.76 250.97,220.70 251.21,220.63 251.45,220.57 251.69,220.51 251.93,220.44 252.17,220.37 252.41,220.30 252.65,220.23 252.89,220.16 253.13,220.09 253.37,220.02 253.61,219.94 253.85,219.87 254.09,219.79 254.33,219.71 254.57,219.63 254.81,219.55 255.05,219.47 255.29,219.39 255.53,219.30 255.77,219.21 256.01,219.13 256.25,219.04 256.49,218.94 256.73,218.85 256.97,218.76 257.21,218.66 257.45,218.56 257.69,218.46 257.93,218.36 258.17,218.25 258.41,218.15 258.65,218.04 258.89,217.93 259.13,217.82 259.37,217.70 259.61,217.59 259.85,217.47 260.09,217.34 260.33,217.22 260.57,217.09 260.81,216.97 261.05,216.83 261.29,216.70 261.53,216.56 261.77,216.42 262.01,216.28 262.25,216.13 262.49,215.98 262.73,215.83 262.97,215.68 263.21,215.52 263.45,215.36 263.69,215.19 263.93,215.02 264.17,214.85 264.41,214.67 264.65,214.49 264.88,214.30 265.12,214.11 265.36,213.92 265.60,213.72 265.84,213.52 266.08,213.31 266.32,213.09 266.56,212.88 266.80,212.65 267.04,212.42 267.28,212.19 267.52,211.95 267.76,211.70 268.00,211.45 268.24,211.19 268.48,210.92 268.72,210.65 268.96,210.36 269.20,210.08 269.44,209.78 269.68,209.48 269.92,209.16 270.16,208.84 270.40,208.51 270.64,208.18 270.88,207.83 271.12,207.47 271.36,207.10 271.60,206.72 271.84,206.33 272.08,205.93 272.32,205.52 272.56,205.09 272.80,204.65 273.04,204.20 273.28,203.74 273.52,203.26 273.76,202.76 274.00,202.25 274.24,201.73 274.48,201.18 274.72,200.62 274.96,200.05 275.20,199.45 275.44,198.83 275.68,198.20 275.92,197.54 276.16,196.86 276.40,196.16 276.64,195.43 276.88,194.68 277.12,193.90 277.36,193.10 277.60,192.27 277.84,191.41 278.08,190.51 278.32,189.59 278.56,188.64 278.80,187.65 279.04,186.62 279.28,185.56 279.52,184.46 279.76,183.32 280.00,182.14 280.24,180.91 280.48,179.64 280.72,178.32 280.96,176.96 281.20,175.54 281.44,174.07 281.68,172.55 281.92,170.97 282.16,169.33 282.40,167.63 282.64,165.87 282.88,164.04 283.12,162.14 283.36,160.18 283.60,158.14 283.84,156.03 284.08,153.84 284.32,151.57 284.56,149.22 284.80,146.79 285.04,144.28 285.28,141.68 285.52,138.99 285.76,136.21 286.00,133.34 286.24,130.38 286.48,127.34 286.72,124.20 286.96,120.97 287.20,117.65 287.44,114.25 287.68,110.77 287.92,107.20 288.16,103.56 288.40,99.86 288.64,96.08 288.87,92.26 289.11,88.39 289.35,84.48 289.59,80.56 289.83,76.62 290.07,72.69 290.31,68.79 290.55,64.92 290.79,61.11 291.03,57.39 291.27,53.77 291.51,50.27 291.75,46.92 291.99,43.74 292.23,40.76 292.47,38.00 292.71,35.48 292.95,33.23 293.19,31.25 293.43,29.59 293.67,28.23 293.91,27.21 294.15,26.53 294.39,26.20 294.63,26.22 294.87,26.59 295.11,27.30 295.35,28.36 295.59,29.75 295.83,31.45 296.07,33.45 296.31,35.73 296.55,38.28 296.79,41.07 297.03,44.07 297.27,47.26 297.51,50.63 297.75,54.14 297.99,57.78 298.23,61.51 298.47,65.32 298.71,69.19 298.95,73.10 299.19,77.04 299.43,80.97 299.67,84.90 299.91,88.80 300.15,92.66 300.39,96.48 300.63,100.25 300.87,103.95 301.11,107.58 301.35,111.14 301.59,114.61 301.83,118.01 302.07,121.31 302.31,124.53 302.55,127.66 302.79,130.70 303.03,133.65 303.27,136.51 303.51,139.27 303.75,141.95 303.99,144.54 304.23,147.05 304.47,149.47 304.71,151.81 304.95,154.07 305.19,156.25 305.43,158.36 305.67,160.39 305.91,162.34 306.15,164.23 306.39,166.05 306.63,167.81 306.87,169.50 307.11,171.14 307.35,172.71 307.59,174.23 307.83,175.69 308.07,177.10 308.31,178.47 308.55,179.78 308.79,181.04 309.03,182.26 309.27,183.44 309.51,184.58 309.75,185.67 309.99,186.73 310.23,187.75 310.47,188.74 310.71,189.69 310.95,190.61 311.19,191.50 311.43,192.36 311.67,193.18 311.91,193.98 312.15,194.76 312.39,195.51 312.63,196.23 312.86,196.93 313.10,197.61 313.34,198.26 313.58,198.90 313.82,199.51 314.06,200.11 314.30,200.68 314.54,201.24 314.78,201.78 315.02,202.31 315.26,202.82 315.50,203.31 315.74,203.79 315.98,204.25 316.22,204.70 316.46,205.14 316.70,205.56 316.94,205.97 317.18,206.37 317.42,206.76 317.66,207.14 317.90,207.51 318.14,207.86 318.38,208.21 318.62,208.55 318.86,208.88 319.10,209.20 319.34,209.51 319.58,209.81 319.82,210.11 320.06,210.39 320.30,210.67 320.54,210.95 320.78,211.21 321.02,211.47 321.26,211.72 321.50,211.97 321.74,212.21 321.98,212.45 322.22,212.68 322.46,212.90 322.70,213.12 322.94,213.33 323.18,213.54 323.42,213.74 323.66,213.94 323.90,214.13 324.14,214.32 324.38,214.51 324.62,214.69 324.86,214.86 325.10,215.04 325.34,215.21 325.58,215.37 325.82,215.53 326.06,215.69 326.30,215.85 326.54,216.00 326.78,216.15 327.02,216.29 327.26,216.44 327.50,216.58 327.74,216.71 327.98,216.85 328.22,216.98 328.46,217.11 328.70,217.23 328.94,217.36 329.18,217.48 329.42,217.60 329.66,217.71 329.90,217.83 330.14,217.94 330.38,218.05 330.62,218.16 330.86,218.26 331.10,218.37 331.34,218.47 331.58,218.57 331.82,218.67 332.06,218.77 332.30,218.86 332.54,218.95 332.78,219.05 333.02,219.13 333.26,219.22 333.50,219.31 333.74,219.39 333.98,219.48 334.22,219.56 334.46,219.64 334.70,219.72 334.94,219.80 335.18,219.88 335.42,219.95 335.66,220.03 335.90,220.10 336.14,220.17 336.38,220.24 336.62,220.31 336.85,220.38 337.09,220.45 337.33,220.51 337.57,220.58 337.81,220.64 338.05,220.70 338.29,220.77 338.53,220.83 338.77,220.89 339.01,220.95 339.25,221.00 339.49,221.06 339.73,221.12 339.97,221.17 340.21,221.23 340.45,221.28 340.69,221.34 340.93,221.39 341.17,221.44 341.41,221.49 341.65,221.54 341.89,221.59 342.13,221.64 342.37,221.69 342.61,221.73 342.85,221.78 343.09,221.83 343.33,221.87 343.57,221.92 343.81,221.96 344.05,222.00 344.29,222.05 344.53,222.09 344.77,222.13 345.01,222.17 345.25,222.21 345.49,222.25 345.73,222.29 345.97,222.33 346.21,222.37 346.45,222.41 346.69,222.44 346.93,222.48 347.17,222.52 347.41,222.55 347.65,222.59 347.89,222.62 348.13,222.66 348.37,222.69 348.61,222.72 348.85,222.76 349.09,222.79 349.33,222.82 349.57,222.85 349.81,222.88 350.05,222.92 350.29,222.95 350.53,222.98 350.77,223.01 351.01,223.04 351.25,223.06 351.49,223.09 351.73,223.12 351.97,223.15 352.21,223.18 352.45,223.21 352.69,223.23 352.93,223.26 353.17,223.29 353.41,223.31 353.65,223.34 353.89,223.36 354.13,223.39 354.37,223.41 354.61,223.44 354.85,223.46 355.09,223.49 355.33,223.51 355.57,223.53 355.81,223.56 356.05,223.58 356.29,223.60 356.53,223.62 356.77,223.65 357.01,223.67 357.25,223.69 357.49,223.71 357.73,223.73 357.97,223.75 358.21,223.77 358.45,223.80 358.69,223.82 358.93,223.84 359.17,223.86 359.41,223.87 359.65,223.89 359.89,223.91 360.13,223.93 360.37,223.95 360.61,223.97 360.84,223.99 361.08,224.01 361.32,224.02 361.56,224.04 361.80,224.06 362.04,224.08 362.28,224.09 362.52,224.11 362.76,224.13 363.00,224.15 363.24,224.16 363.48,224.18 363.72,224.19 363.96,224.21 364.20,224.23 364.44,224.24 364.68,224.26 364.92,224.27 365.16,224.29 365.40,224.30 365.64,224.32 365.88,224.33 366.12,224.35 366.36,224.36 366.60,224.38 366.84,224.39 367.08,224.41 367.32,224.42 367.56,224.43 367.80,224.45 368.04,224.46 368.28,224.47 368.52,224.49 368.76,224.50 369.00,224.51 369.24,224.53 369.48,224.54 369.72,224.55 369.96,224.56 370.20,224.58 370.44,224.59 370.68,224.60 370.92,224.61 371.16,224.63 371.40,224.64 371.64,224.65 371.88,224.66 372.12,224.67 372.36,224.68 372.60,224.69" stroke="#ffa500" stroke-width="1.15" stroke-dasharray="5.5,2.35" stroke-dashoffset="7.38"/>
</g>
<g stroke="#222" stroke-width="0.9" fill="none">
<rect x="37.0" y="3.5" width="143.85" height="223.05"/>
<path d="M84.8 226.55v-6M84.8 3.5v6"/>
<path d="M132.8 226.55v-6M132.8 3.5v6"/>
<path d="M60.8 226.55v-3M60.8 3.5v3"/>
<path d="M108.8 226.55v-3M108.8 3.5v3"/>
<path d="M156.8 226.55v-3M156.8 3.5v3"/>
<path d="M37.0 162.95000000000002h6M180.85 162.95000000000002h-6"/>
<path d="M37.0 99.35000000000001h6M180.85 99.35000000000001h-6"/>
<path d="M37.0 35.75h6M180.85 35.75h-6"/>
<path d="M37.0 194.75h3M180.85 194.75h-3"/>
<path d="M37.0 131.15h3M180.85 131.15h-3"/>
<path d="M37.0 67.55000000000001h3M180.85 67.55000000000001h-3"/>
</g>
<g stroke="#222" stroke-width="0.9" fill="none">
<rect x="228.9" y="3.5" width="143.70000000000002" height="223.05"/>
<path d="M308.5 226.55v-6M308.5 3.5v6"/>
<path d="M268.8 226.55v-3M268.8 3.5v3"/>
<path d="M348.3 226.55v-3M348.3 3.5v3"/>
<path d="M228.9 160.85000000000002h6M372.6 160.85000000000002h-6"/>
<path d="M228.9 95.15h6M372.6 95.15h-6"/>
<path d="M228.9 29.44999999999999h6M372.6 29.44999999999999h-6"/>
<path d="M228.9 193.70000000000002h3M372.6 193.70000000000002h-3"/>
<path d="M228.9 128.0h3M372.6 128.0h-3"/>
<path d="M228.9 62.30000000000001h3M372.6 62.30000000000001h-3"/>
</g>
<rect x="88.2" y="13.1" width="84.64999999999999" height="60.699999999999996" fill="#fff" stroke="#222" stroke-width="0.9"/>
<path d="M91.8 20.4H108.2" stroke="#000" stroke-width="1.15"/>
<text x="114.2" y="24.0" class="t" style="font-size:11.7px">U = 2.00t</text>
<path d="M91.8 31.4H108.2" stroke="#ffa500" stroke-width="1.15"/>
<text x="114.2" y="35.6" class="t" style="font-size:11.7px">U = 1.95t</text>
<path d="M91.8 42.9H108.2" stroke="#ff0000" stroke-width="1.15"/>
<text x="114.2" y="46.9" class="t" style="font-size:11.7px">U = 1.90t</text>
<path d="M91.8 54.0H108.2" stroke="#008b00" stroke-width="1.15"/>
<text x="114.2" y="58.2" class="t" style="font-size:11.7px">U = 1.80t</text>
<path d="M91.5 66.1H108.2" stroke="#000" stroke-width="1.15" stroke-dasharray="6,1.9"/>
<text x="114.2" y="69.3" class="t" style="font-size:11.7px">U = 0, x100</text>
<rect x="310.6" y="13.0" width="54.0" height="50.7" fill="#fff" stroke="#222" stroke-width="0.9"/>
<path d="M314.1 22.6H330.1" stroke="#000" stroke-width="1.15"/>
<text x="336" y="24.20" class="t">l<tspan dy="4.6" dx="0.3" style="font-size:7.6px">c</tspan><tspan dy="-4.6" dx="0.3"> = 0</tspan></text>
<path d="M314.1 38.2H330.1" stroke="#0000ff" stroke-width="1.15"/>
<text x="336" y="39.80" class="t">l<tspan dy="4.6" dx="0.3" style="font-size:7.6px">c</tspan><tspan dy="-4.6" dx="0.3"> = 1</tspan></text>
<path d="M314.1 53.7H330.1" stroke="#ffa500" stroke-width="1.15" stroke-dasharray="5.6,2.0"/>
<text x="336" y="55.30" class="t">l<tspan dy="4.6" dx="0.3" style="font-size:7.6px">c</tspan><tspan dy="-4.6" dx="0.3"> = 2</tspan></text>
<text x="0.10" y="10.4" class="t" style="font-size:12.8px" textLength="22.3" lengthAdjust="spacingAndGlyphs">ρ(0,</text>
<text transform="translate(21.70,10.4) scale(1.15,1)" class="t" style="font-size:14.2px">ω</text>
<text transform="translate(31.50,10.4) scale(1.1,1)" class="t" style="font-size:12.8px">)</text>
<text x="192.20" y="10.4" class="t" style="font-size:12.8px" textLength="22.3" lengthAdjust="spacingAndGlyphs">ρ(0,</text>
<text transform="translate(213.80,10.4) scale(1.15,1)" class="t" style="font-size:14.2px">ω</text>
<text transform="translate(223.60,10.4) scale(1.1,1)" class="t" style="font-size:12.8px">)</text>
<text x="46.5" y="22.30" text-anchor="start" class="t">(a)</text>
<text x="238" y="22.60" text-anchor="start" class="t">(b)</text>
<text transform="translate(34,231.15) scale(1,1.08)" text-anchor="end" class="t">0</text>
<text transform="translate(34,167.55) scale(1,1.08)" text-anchor="end" class="t">2</text>
<text transform="translate(34,103.95) scale(1,1.08)" text-anchor="end" class="t">4</text>
<text transform="translate(34,40.35) scale(1,1.08)" text-anchor="end" class="t">6</text>
<text transform="translate(226,231.15) scale(1,1.08)" text-anchor="end" class="t">0</text>
<text transform="translate(226,165.45) scale(1,1.08)" text-anchor="end" class="t">10</text>
<text transform="translate(226,99.75) scale(1,1.08)" text-anchor="end" class="t">20</text>
<text transform="translate(226,34.05) scale(1,1.08)" text-anchor="end" class="t">30</text>
<text transform="translate(85.2,239.10) scale(1,1.08)" text-anchor="middle" class="t">-7.5</text>
<text transform="translate(133.5,239.10) scale(1,1.08)" text-anchor="middle" class="t">-7.4</text>
<text transform="translate(181.2,239.10) scale(1,1.08)" text-anchor="middle" class="t">-7.3</text>
<text transform="translate(229.3,239.00) scale(1,1.08)" text-anchor="middle" class="t">-7.53</text>
<text transform="translate(309.2,239.00) scale(1,1.08)" text-anchor="middle" class="t">-7.52</text>
<text transform="translate(100.55,250.75) scale(1.04,1.12)" class="t" style="font-size:13.2px">ω</text>
<text transform="translate(109.60,250.75) scale(1,1.12)" class="t">/</text>
<text transform="translate(113.75,250.75) scale(1,1.12)" class="t">t</text>
<text transform="translate(292.55,250.75) scale(1.04,1.12)" class="t" style="font-size:13.2px">ω</text>
<text transform="translate(301.60,250.75) scale(1,1.12)" class="t">/</text>
<text transform="translate(305.75,250.75) scale(1,1.12)" class="t">t</text>
</g>
</svg>
</body></html>
